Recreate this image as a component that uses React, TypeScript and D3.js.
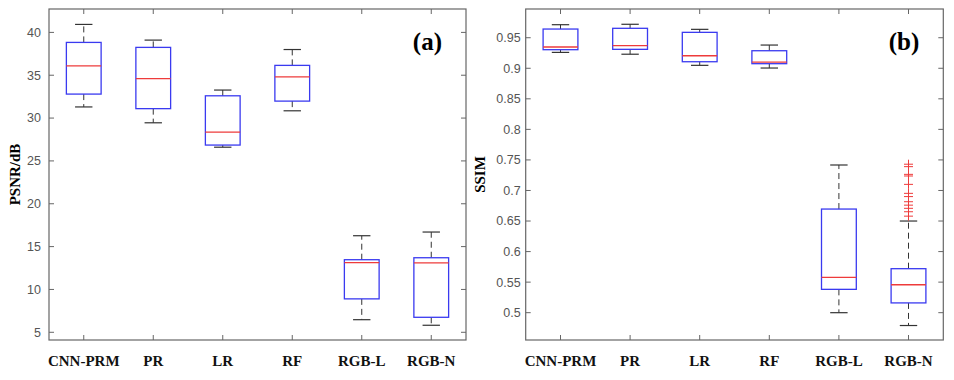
import React from "react";
import * as d3 from "d3";

const categories = ["CNN-PRM", "PR", "LR", "RF", "RGB-L", "RGB-N"];

const psnrLow = [31.3, 29.45, 26.6, 30.85, 6.47, 5.82];
const psnrQ1 = [32.8, 31.1, 26.85, 31.98, 8.9, 6.75];
const psnrMed = [36.1, 34.6, 28.37, 34.8, 13.12, 13.1];
const psnrQ3 = [38.83, 38.25, 32.6, 36.15, 13.47, 13.7];
const psnrHigh = [40.93, 39.1, 33.27, 38.0, 16.27, 16.7];
const psnrTicks = [5, 10, 15, 20, 25, 30, 35, 40];

const ssimLow = [0.926, 0.923, 0.9048, 0.9004, 0.5, 0.479];
const ssimQ1 = [0.9304, 0.931, 0.9107, 0.9075, 0.5382, 0.516];
const ssimMed = [0.9348, 0.937, 0.9205, 0.91, 0.5578, 0.5457];
const ssimQ3 = [0.9642, 0.9654, 0.9588, 0.9287, 0.6696, 0.572];
const ssimHigh = [0.9713, 0.972, 0.9637, 0.938, 0.7417, 0.65];
const ssimOutliersRGBN = [0.743, 0.739, 0.7264, 0.7237, 0.71, 0.6953, 0.69, 0.6816, 0.676, 0.6708, 0.6652, 0.658];
const ssimTicks = [0.5, 0.55, 0.6, 0.65, 0.7, 0.75, 0.8, 0.85, 0.9, 0.95];

const TOP = 9;
const BOTTOM = 340;
const BLUE = "#3a3af0";
const RED = "#ee3b3b";
const AXIS = "#666";

type PanelProps = {
  left: number;
  right: number;
  domain: [number, number];
  ticks: number[];
  fmt: (v: number) => string;
  ylabel: string;
  ylabelX: number;
  letter: string;
  low: number[];
  q1: number[];
  med: number[];
  q3: number[];
  high: number[];
  outliers: { cat: number; values: number[] }[];
  labelGap: number;
};

function Panel(p: PanelProps) {
  const x = d3.scaleLinear().domain([0.5, categories.length + 0.5]).range([p.left, p.right]);
  const y = d3.scaleLinear().domain(p.domain).range([BOTTOM, TOP]);
  const tl = 5;
  const boxHalf = 0.25;
  const capHalf = 0.125;
  return (
    <g>
      {/* ticks */}
      {p.ticks.map((t) => (
        <g key={"yt" + t}>
          <line x1={p.left} x2={p.left + tl} y1={y(t)} y2={y(t)} stroke={AXIS} strokeWidth={1} />
          <line x1={p.right} x2={p.right - tl} y1={y(t)} y2={y(t)} stroke={AXIS} strokeWidth={1} />
          <text
            x={p.left - p.labelGap}
            y={y(t)}
            dy="0.35em"
            textAnchor="end"
            fontFamily="Liberation Sans, Arial, sans-serif"
            fontSize={12.5}
            fill="#555"
          >
            {p.fmt(t)}
          </text>
        </g>
      ))}
      {categories.map((c, i) => (
        <g key={"xt" + c}>
          <line x1={x(i + 1)} x2={x(i + 1)} y1={BOTTOM} y2={BOTTOM - tl} stroke={AXIS} strokeWidth={1} />
          <line x1={x(i + 1)} x2={x(i + 1)} y1={TOP} y2={TOP + tl} stroke={AXIS} strokeWidth={1} />
          <text
            x={x(i + 1)}
            y={366}
            textAnchor="middle"
            fontFamily="Liberation Serif, Times New Roman, serif"
            fontWeight="bold"
            fontSize={15}
            fill="#111"
          >
            {c}
          </text>
        </g>
      ))}
      {/* boxes */}
      {categories.map((c, i) => {
        const cx = x(i + 1);
        const bl = x(i + 1 - boxHalf);
        const br = x(i + 1 + boxHalf);
        const cl = x(i + 1 - capHalf);
        const cr = x(i + 1 + capHalf);
        return (
          <g key={"b" + c}>
            <line x1={cx} x2={cx} y1={y(p.q3[i])} y2={y(p.high[i])} stroke="#333" strokeWidth={1} strokeDasharray="6,4" />
            <line x1={cx} x2={cx} y1={y(p.q1[i])} y2={y(p.low[i])} stroke="#333" strokeWidth={1} strokeDasharray="6,4" />
            <line x1={cl} x2={cr} y1={y(p.high[i])} y2={y(p.high[i])} stroke="#333" strokeWidth={1.2} />
            <line x1={cl} x2={cr} y1={y(p.low[i])} y2={y(p.low[i])} stroke="#333" strokeWidth={1.2} />
            <rect
              x={bl}
              y={y(p.q3[i])}
              width={br - bl}
              height={y(p.q1[i]) - y(p.q3[i])}
              fill="none"
              stroke={BLUE}
              strokeWidth={1.3}
            />
            <line x1={bl} x2={br} y1={y(p.med[i])} y2={y(p.med[i])} stroke={RED} strokeWidth={1.3} />
          </g>
        );
      })}
      {p.outliers.map((o) =>
        o.values.map((v, j) => {
          const cx = x(o.cat + 1);
          const cy = y(v);
          const s = 4.5;
          return (
            <path
              key={"o" + o.cat + "-" + j}
              d={`M${cx - s},${cy}H${cx + s}M${cx},${cy - s}V${cy + s}`}
              stroke={RED}
              strokeWidth={1}
              fill="none"
            />
          );
        })
      )}
      {/* frame */}
      <rect x={p.left} y={TOP} width={p.right - p.left} height={BOTTOM - TOP} fill="none" stroke={AXIS} strokeWidth={1.2} />
      <text
        x={p.right - 24}
        y={50}
        textAnchor="end"
        fontFamily="Liberation Serif, Times New Roman, serif"
        fontWeight="bold"
        fontSize={25}
        fill="#000"
      >
        {p.letter}
      </text>
      <text
        transform={`translate(${p.ylabelX},${(TOP + BOTTOM) / 2}) rotate(-90)`}
        textAnchor="middle"
        dy="0.35em"
        fontFamily="Liberation Serif, Times New Roman, serif"
        fontWeight="bold"
        fontSize={15}
        fill="#000"
      >
        {p.ylabel}
      </text>
    </g>
  );
}

export default function App() {
  const fmtA = (v: number) => String(v);
  const fmtB = (v: number) => String(+v.toFixed(2));
  return (
    <div style={{ position: "absolute", left: 0, top: 0 }}>
      <svg width={954} height={380} style={{ display: "block", background: "#fff" }}>
        <Panel
          left={49}
          right={466}
          domain={[4.1, 42.73]}
          ticks={psnrTicks}
          fmt={fmtA}
          ylabel="PSNR/dB"
          ylabelX={15}
          letter="(a)"
          low={psnrLow}
          q1={psnrQ1}
          med={psnrMed}
          q3={psnrQ3}
          high={psnrHigh}
          outliers={[]}
          labelGap={8}
        />
        <Panel
          left={525.7}
          right={943.3}
          domain={[0.4553, 0.997]}
          ticks={ssimTicks}
          fmt={fmtB}
          ylabel="SSIM"
          ylabelX={480}
          letter="(b)"
          low={ssimLow}
          q1={ssimQ1}
          med={ssimMed}
          q3={ssimQ3}
          high={ssimHigh}
          outliers={[{ cat: 5, values: ssimOutliersRGBN }]}
          labelGap={5}
        />
      </svg>
    </div>
  );
}
